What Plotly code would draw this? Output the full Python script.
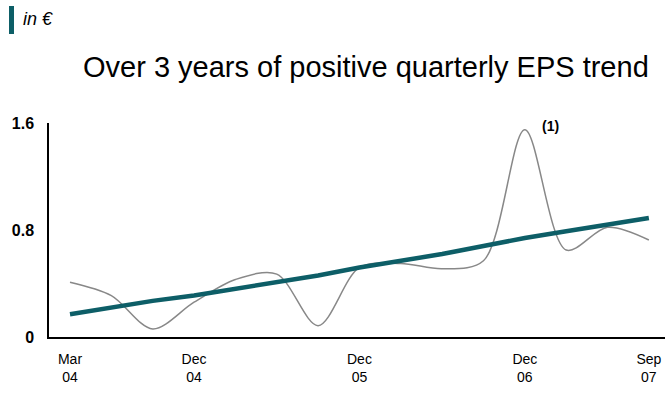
import plotly.graph_objects as go

# Quarterly index: 0 = Mar 04 ... 14 = Sep 07
quarters = list(range(15))
eps = [0.41, 0.31, 0.06, 0.26, 0.43, 0.47, 0.085, 0.52, 0.55, 0.51, 0.57, 1.55, 0.65, 0.82, 0.725]
trend = [0.17, 0.22, 0.27, 0.31, 0.36, 0.41, 0.46, 0.52, 0.57, 0.62, 0.68, 0.74, 0.79, 0.84, 0.89]

tick_pos = [0, 3, 7, 11, 14]
tick_text = ["Mar<br>04", "Dec<br>04", "Dec<br>05", "Dec<br>06", "Sep<br>07"]
y_ticks = [0, 0.8, 1.6]
y_text = ["0", "0.8", "1.6"]

TEAL = "#0D5E67"
PW = 616.0
PH = 214.0

fig = go.Figure()
fig.add_trace(go.Scatter(x=quarters, y=eps, mode="lines",
                         line=dict(color="#888888", width=1.5, shape="spline", smoothing=0.9),
                         hoverinfo="skip"))
fig.add_trace(go.Scatter(x=quarters, y=trend, mode="lines",
                         line=dict(color=TEAL, width=4.5),
                         hoverinfo="skip"))

fig.update_layout(
    width=669, height=394,
    margin=dict(l=49, r=4, t=123, b=57),
    paper_bgcolor="white", plot_bgcolor="white",
    showlegend=False,
    font=dict(family="Liberation Sans, Arial, sans-serif", color="black"),
    xaxis=dict(range=[-0.508, 14.39], showgrid=False, zeroline=False,
               showline=True, linecolor="black", linewidth=1.5,
               tickmode="array", tickvals=tick_pos, ticktext=tick_text,
               ticks="outside", ticklen=8, tickcolor="rgba(0,0,0,0)",
               tickfont=dict(family="Liberation Sans Narrow, Arial Narrow, Liberation Sans, Arial", size=14)),
    yaxis=dict(range=[0, 1.6], showgrid=False, zeroline=False,
               showline=True, linecolor="black", linewidth=1.5,
               tickmode="array", tickvals=y_ticks, ticktext=y_text,
               ticks="outside", ticklen=10, tickcolor="rgba(0,0,0,0)",
               tickfont=dict(family="Liberation Sans, Arial", size=16, color="black", weight="bold")),
    shapes=[dict(type="rect", xref="paper", yref="paper", x0=(9 - 49) / PW, x1=(14 - 49) / PW,
                 y0=1 + (123 - 34) / PH, y1=1 + (123 - 6) / PH,
                 fillcolor=TEAL, line=dict(width=0))],
    annotations=[
        dict(text="<i>in €</i>", xref="paper", yref="paper",
             x=(21 - 49) / PW, y=1 + (123 - 19) / PH, xanchor="left", yanchor="middle",
             showarrow=False, font=dict(size=18, family="Liberation Sans, Arial")),
        dict(text="Over 3 years of positive quarterly EPS trend", xref="paper", yref="paper",
             x=(366 - 49) / PW, y=1 + (123 - 67) / PH, xanchor="center", yanchor="middle",
             showarrow=False, font=dict(size=29, family="Liberation Sans, Arial")),
        dict(text="<b>(1)</b>", xref="x", yref="paper",
             x=11.62, y=1 + (123 - 126) / PH, xanchor="center", yanchor="middle",
             showarrow=False, font=dict(size=14, family="Liberation Sans, Arial")),
    ],
)

fig.write_html("out.html")
